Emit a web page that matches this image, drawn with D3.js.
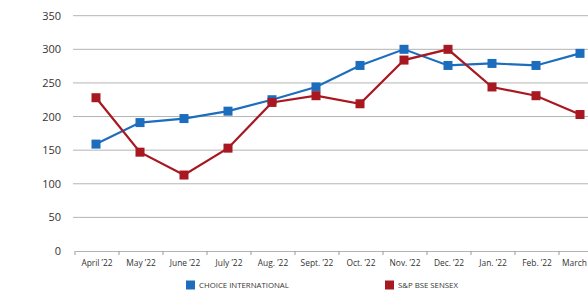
<!DOCTYPE html>
<html>
<head>
<meta charset="utf-8">
<script src="https://cdn.jsdelivr.net/npm/d3@7"></script>
<style>
  body { margin: 0; background: #fff; }
  svg { display: block; font-family: "Open Sans", "Noto Sans", sans-serif; }
</style>
</head>
<body>
<div id="chart"></div>
<script>
const months = ["April \u201922", "May \u201922", "June \u201922", "July \u201922", "Aug. \u201922", "Sept. \u201922",
  "Oct. \u201922", "Nov. \u201922", "Dec. \u201922", "Jan. \u201922", "Feb. \u201922", "March \u201923"];
const choiceValues = [159, 191, 197, 208, 225, 244, 276, 300, 276, 279, 276, 294];
const sensexValues = [228, 147, 113, 153, 221, 231, 219, 284, 300, 244, 231, 203];
const yTicks = [0, 50, 100, 150, 200, 250, 300, 350];

const series = [
  { name: "CHOICE INTERNATIONAL", values: choiceValues, color: "#1c6dbd" },
  { name: "S&P BSE SENSEX", values: sensexValues, color: "#a81820" }
];

const width = 588, height = 292;

const svg = d3.select("#chart").append("svg")
  .attr("width", width)
  .attr("height", height);

// scales
const x = d3.scaleBand().domain(months).range([75, 603]);
const y = d3.scaleLinear().domain([0, 350]).range([251, 15.7]);

// gridlines
svg.append("g")
  .selectAll("line")
  .data(yTicks.filter(d => d > 0))
  .join("line")
  .attr("x1", 73).attr("x2", width)
  .attr("y1", d => y(d)).attr("y2", d => y(d))
  .attr("stroke", "#b4b4b4")
  .attr("stroke-width", 1);

// y labels
svg.append("g")
  .selectAll("text")
  .data(yTicks)
  .join("text")
  .attr("x", 61)
  .attr("y", d => y(d))
  .attr("dy", "0.36em")
  .attr("text-anchor", "end")
  .attr("font-size", 11)
  .attr("fill", "#333")
  .text(d => d);

// x axis
const xAxis = svg.append("g")
  .attr("transform", `translate(0,${y(0)})`)
  .call(d3.axisBottom(x).tickSize(0).tickPadding(9));
xAxis.select(".domain").attr("stroke", "#b4b4b4");
xAxis.selectAll("text").attr("font-size", 8.4).attr("fill", "#333")
  .attr("font-family", "\"Open Sans\", sans-serif");

// category boundary ticks
svg.append("g")
  .selectAll("line")
  .data(months)
  .join("line")
  .attr("x1", d => x(d)).attr("x2", d => x(d))
  .attr("y1", y(0)).attr("y2", y(0) + 4)
  .attr("stroke", "#999");

// lines + markers
const line = d3.line()
  .x((d, i) => x(months[i]) + x.bandwidth() / 2 - 1)
  .y(d => y(d));

series.forEach(s => {
  svg.append("path")
    .datum(s.values)
    .attr("d", line)
    .attr("fill", "none")
    .attr("stroke", s.color)
    .attr("stroke-width", 2.2);

  svg.append("g")
    .selectAll("rect")
    .data(s.values)
    .join("rect")
    .attr("x", (d, i) => x(months[i]) + x.bandwidth() / 2 - 1 - 4.5)
    .attr("y", d => y(d) - 4.5)
    .attr("width", 9).attr("height", 9)
    .attr("fill", s.color);
});

// legend
const legendX = [186, 385];
const legend = svg.append("g")
  .selectAll("g")
  .data(series)
  .join("g")
  .attr("transform", (d, i) => `translate(${legendX[i]},280.5)`);
legend.append("rect")
  .attr("width", 9).attr("height", 9)
  .attr("fill", d => d.color);
legend.append("text")
  .attr("x", 13).attr("y", 4.5)
  .attr("dy", "0.36em")
  .attr("font-size", 7.8)
  .attr("fill", "#333")
  .text(d => d.name);
</script>
</body>
</html>
